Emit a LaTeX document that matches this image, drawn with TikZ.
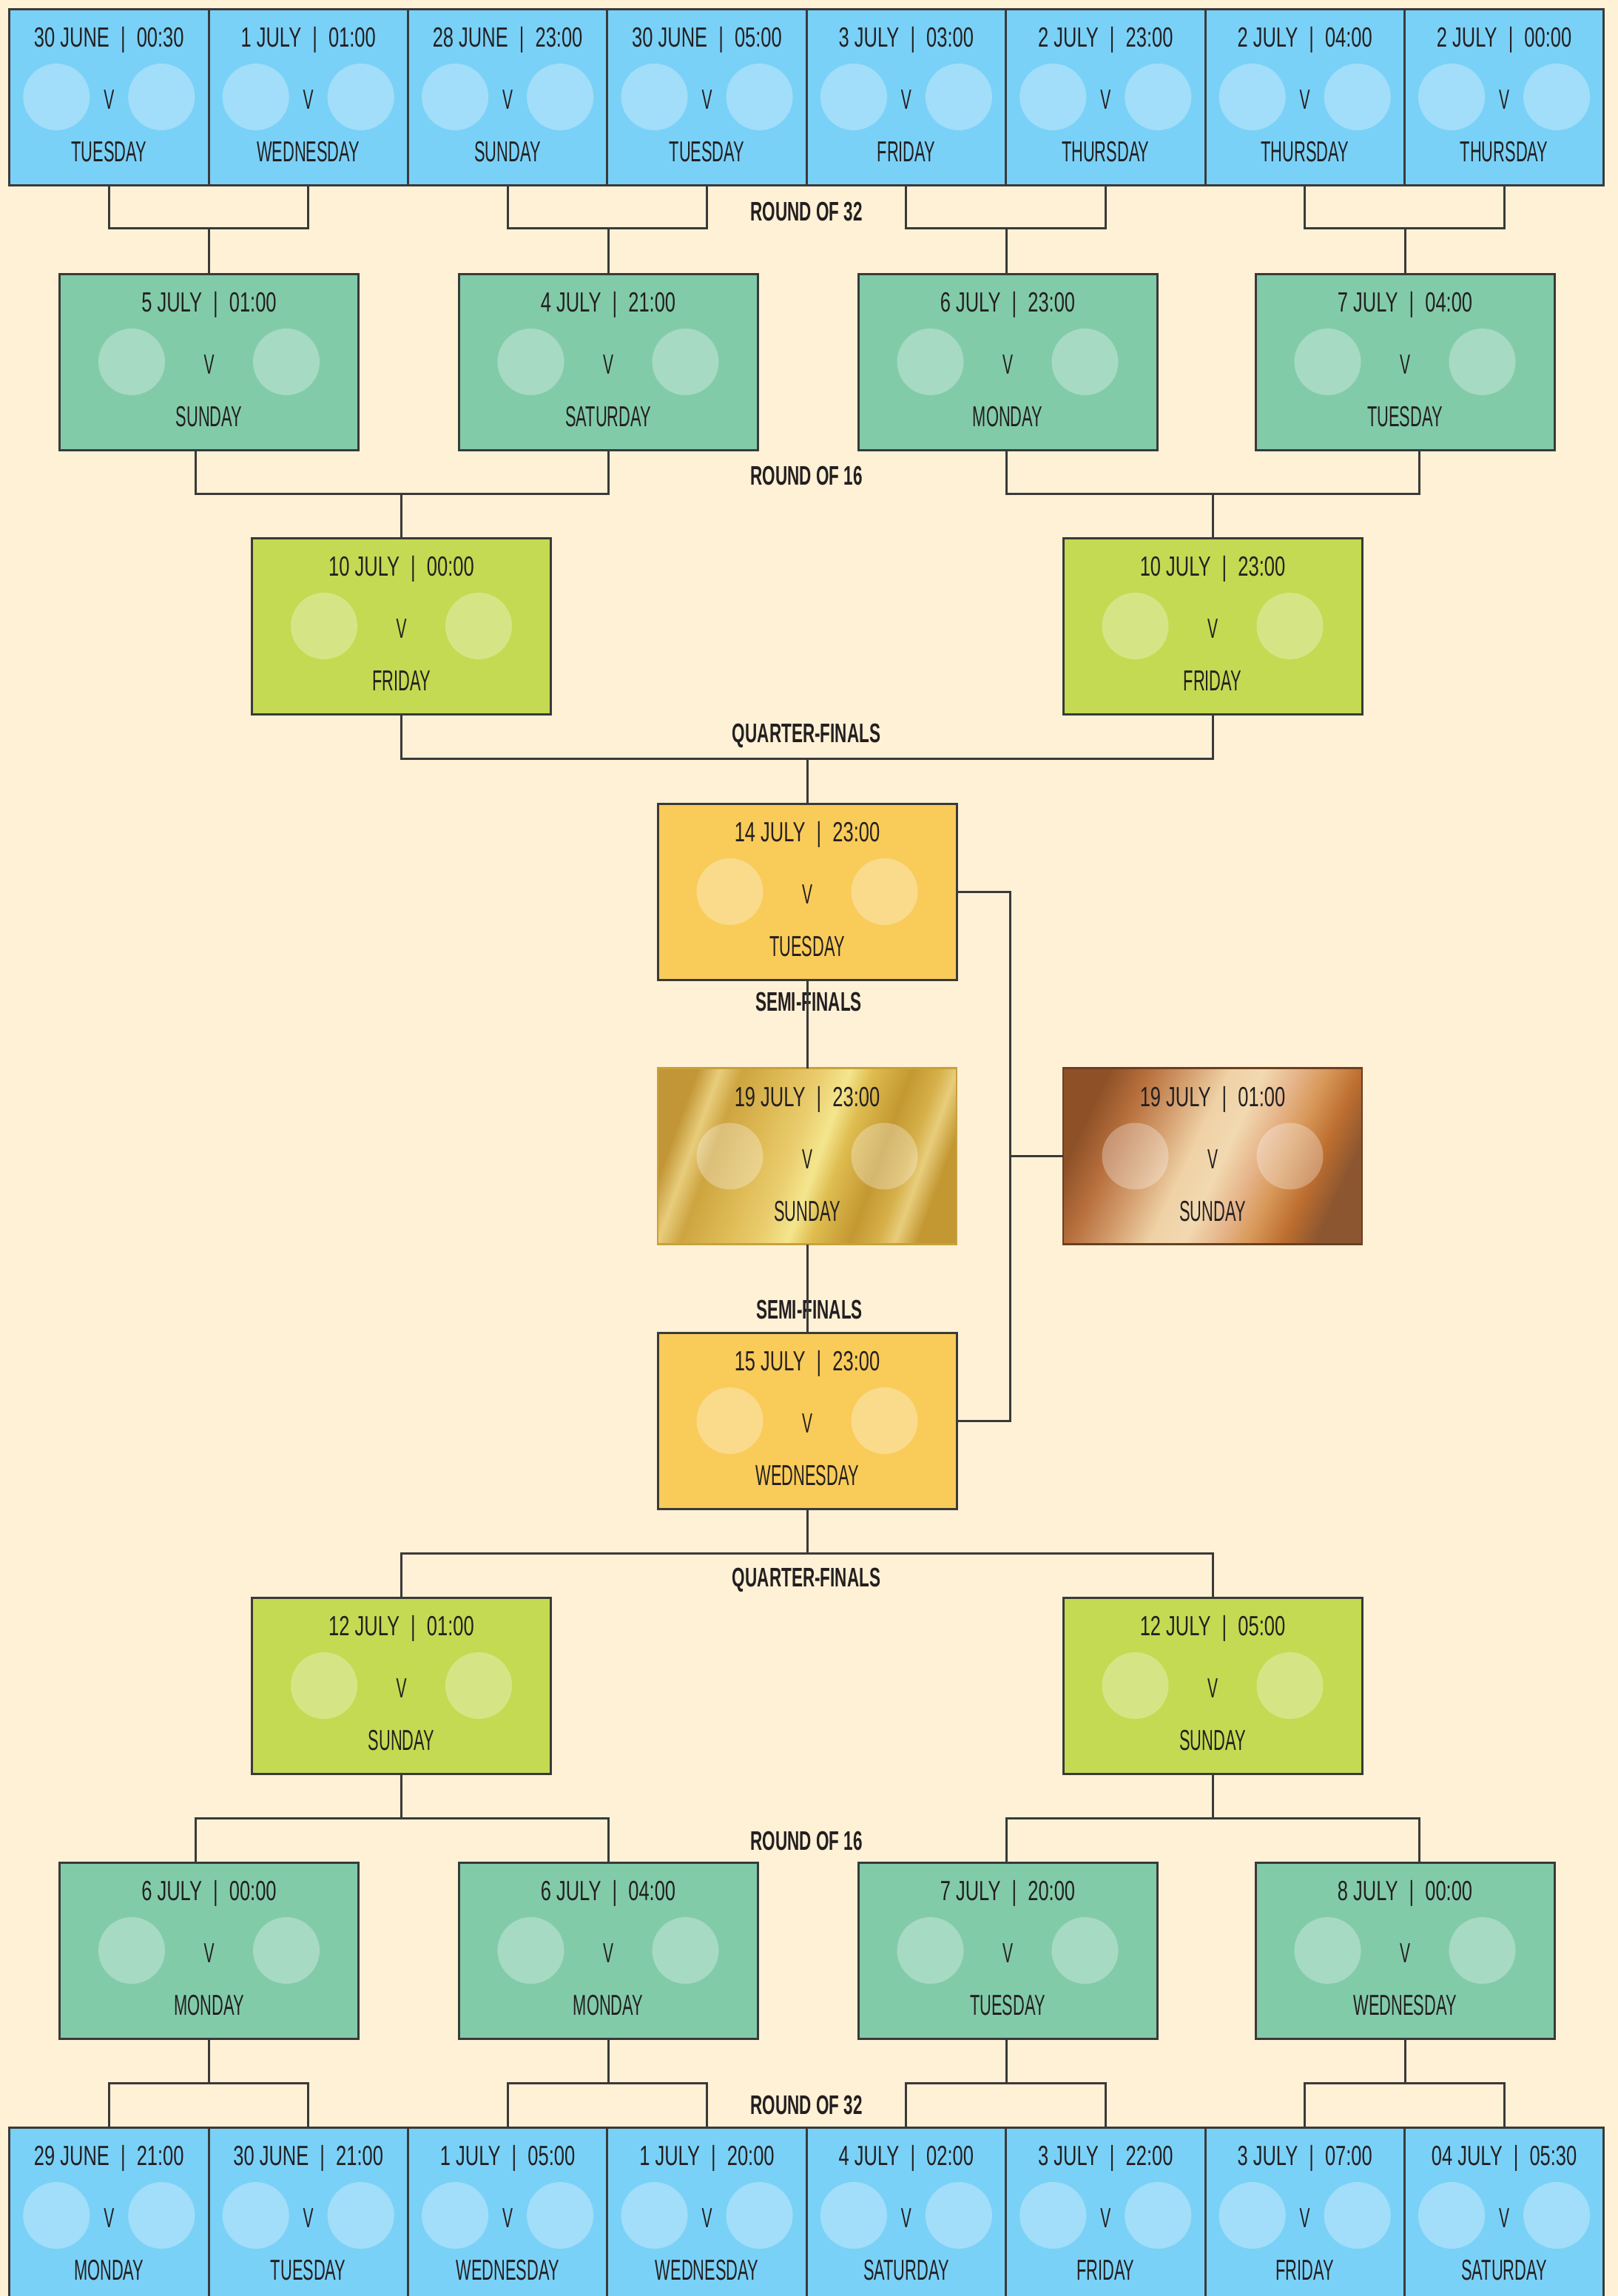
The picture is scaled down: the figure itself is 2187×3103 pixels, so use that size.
\documentclass[tikz,border=0pt]{standalone}
\usepackage{fontspec}
\newfontfamily\datef[FakeStretch=0.68]{Liberation Sans}
\newfontfamily\dayf[FakeStretch=0.56]{Liberation Sans}
\newfontfamily\labf[FakeStretch=0.62]{Liberation Sans Bold}
\definecolor{bg}{HTML}{FFF1D6}
\definecolor{lc}{HTML}{3A3A3A}
\definecolor{txt}{HTML}{231F20}
\definecolor{blueC}{HTML}{7AD1F7}
\definecolor{greenC}{HTML}{82CBA9}
\definecolor{limeC}{HTML}{C4DA52}
\definecolor{yelC}{HTML}{F9CB59}
\definecolor{goldB}{HTML}{C9A13A}
\definecolor{brzB}{HTML}{6B3F22}
\definecolor{g1}{HTML}{C29636}
\definecolor{g2}{HTML}{E8CD7C}
\definecolor{g3}{HTML}{CDA440}
\definecolor{g4}{HTML}{DDB954}
\definecolor{g5}{HTML}{EACD6E}
\definecolor{g6}{HTML}{F4E68E}
\definecolor{g7}{HTML}{DFBD50}
\definecolor{g8}{HTML}{C39832}
\definecolor{g9}{HTML}{D6B04A}
\definecolor{b1}{HTML}{8E5127}
\definecolor{b2}{HTML}{B8703E}
\definecolor{b3}{HTML}{D49E6E}
\definecolor{b4}{HTML}{EFD2A6}
\definecolor{b5}{HTML}{F2D9B0}
\definecolor{b6}{HTML}{E6B48A}
\definecolor{b7}{HTML}{D8995A}
\definecolor{b8}{HTML}{BD6E30}
\definecolor{b9}{HTML}{8C5630}
\pgfdeclarehorizontalshading{goldsh}{100bp}{color(0bp)=(g1); color(25bp)=(g1); color(29bp)=(g2); color(33bp)=(g3); color(40bp)=(g4); color(47bp)=(g5); color(52bp)=(g6); color(56bp)=(g7); color(63bp)=(g8); color(68bp)=(g9); color(71bp)=(g2); color(75bp)=(g8); color(100bp)=(g8)}
\pgfdeclarehorizontalshading{brzsh}{100bp}{color(0bp)=(b1); color(25bp)=(b1); color(32bp)=(b2); color(39bp)=(b3); color(46bp)=(b4); color(52bp)=(b5); color(58bp)=(b6); color(63bp)=(b7); color(69bp)=(b8); color(75bp)=(b9); color(100bp)=(b9)}
\begin{document}
\begin{tikzpicture}[x=1pt,y=-1pt,
  matchbox/.style={draw=lc, line width=3pt, inner sep=0pt, outer sep=0pt, minimum height=238pt},
  r32box/.style={matchbox, fill=blueC, minimum width=269.4pt},
  r16box/.style={matchbox, fill=greenC, minimum width=404pt},
  qfbox/.style={matchbox, fill=limeC, minimum width=404pt},
  sfbox/.style={matchbox, fill=yelC, minimum width=404pt},
  goldbox/.style={matchbox, draw=goldB, line width=2.5pt, minimum width=404pt, shade, shading=goldsh, shading angle=-20},
  brzbox/.style={matchbox, draw=brzB, line width=2.5pt, minimum width=404pt, shade, shading=brzsh, shading angle=-25},
  conn/.style={draw=lc, line width=3pt},
  datet/.style={inner sep=0pt, text=txt, anchor=base, font=\datef\fontsize{37.5}{40}\selectfont},
  dayt/.style={inner sep=0pt, text=txt, anchor=base, font=\dayf\fontsize{39}{42}\selectfont},
  vt/.style={inner sep=0pt, text=txt, anchor=base, font=\dayf\fontsize{37.5}{40}\selectfont},
  lab/.style={inner sep=0pt, text=txt, anchor=base, font=\labf\fontsize{36.3}{40}\selectfont},
  disc/.style={fill=white, fill opacity=0.3}
]
\newcommand\mymatch[8]{%
  \node[#2] (#1) at (#3,#4) {};
  \fill[disc] ([xshift=-#8pt]#1.center) circle[radius=45pt];
  \fill[disc] ([xshift=#8pt]#1.center) circle[radius=45pt];
  \node[datet] (#1d) at ([yshift=-51.5pt]#1.north) {#5 \hspace{8pt}| \hspace{8pt}#6};
  \node[vt] (#1v) at ([yshift=-135.5pt]#1.north) {V};
  \node[dayt] (#1w) at ([yshift=-206.5pt]#1.north) {#7};
}
\clip (0,0) rectangle (2187,3103);
\fill[bg] (0,0) rectangle (2187,3103);

% ---------- top round of 32 ----------
\mymatch{ta}{r32box}{147.3}{131}{30 JUNE}{00:30}{TUESDAY}{71}
\mymatch{tb}{r32box}{416.7}{131}{1 JULY}{01:00}{WEDNESDAY}{71}
\mymatch{tc}{r32box}{686.1}{131}{28 JUNE}{23:00}{SUNDAY}{71}
\mymatch{td}{r32box}{955.5}{131}{30 JUNE}{05:00}{TUESDAY}{71}
\mymatch{te}{r32box}{1224.9}{131}{3 JULY}{03:00}{FRIDAY}{71}
\mymatch{tf}{r32box}{1494.3}{131}{2 JULY}{23:00}{THURSDAY}{71}
\mymatch{tg}{r32box}{1763.7}{131}{2 JULY}{04:00}{THURSDAY}{71}
\mymatch{th}{r32box}{2033.1}{131}{2 JULY}{00:00}{THURSDAY}{71}

% ---------- top round of 16 ----------
\mymatch{ra}{r16box}{282.5}{489}{5 JULY}{01:00}{SUNDAY}{104.5}
\mymatch{rb}{r16box}{822}{489}{4 JULY}{21:00}{SATURDAY}{104.5}
\mymatch{rc}{r16box}{1362}{489}{6 JULY}{23:00}{MONDAY}{104.5}
\mymatch{rd}{r16box}{1899}{489}{7 JULY}{04:00}{TUESDAY}{104.5}

% ---------- top quarter-finals ----------
\mymatch{qa}{qfbox}{542.5}{846}{10 JULY}{00:00}{FRIDAY}{104.5}
\mymatch{qb}{qfbox}{1639}{846}{10 JULY}{23:00}{FRIDAY}{104.5}

% ---------- semi-finals, final, third place ----------
\mymatch{sa}{sfbox}{1091}{1205}{14 JULY}{23:00}{TUESDAY}{104.5}
\mymatch{fin}{goldbox}{1091}{1562.5}{19 JULY}{23:00}{SUNDAY}{104.5}
\mymatch{brz}{brzbox}{1639}{1562.5}{19 JULY}{01:00}{SUNDAY}{104.5}
\mymatch{sb}{sfbox}{1091}{1920}{15 JULY}{23:00}{WEDNESDAY}{104.5}

% ---------- bottom quarter-finals ----------
\mymatch{qc}{qfbox}{542.5}{2278}{12 JULY}{01:00}{SUNDAY}{104.5}
\mymatch{qd}{qfbox}{1639}{2278}{12 JULY}{05:00}{SUNDAY}{104.5}

% ---------- bottom round of 16 ----------
\mymatch{re}{r16box}{282.5}{2636}{6 JULY}{00:00}{MONDAY}{104.5}
\mymatch{rf}{r16box}{822}{2636}{6 JULY}{04:00}{MONDAY}{104.5}
\mymatch{rg}{r16box}{1362}{2636}{7 JULY}{20:00}{TUESDAY}{104.5}
\mymatch{rh}{r16box}{1899}{2636}{8 JULY}{00:00}{WEDNESDAY}{104.5}

% ---------- bottom round of 32 ----------
\mymatch{ba}{r32box}{147.3}{2994}{29 JUNE}{21:00}{MONDAY}{71}
\mymatch{bb}{r32box}{416.7}{2994}{30 JUNE}{21:00}{TUESDAY}{71}
\mymatch{bc}{r32box}{686.1}{2994}{1 JULY}{05:00}{WEDNESDAY}{71}
\mymatch{bd}{r32box}{955.5}{2994}{1 JULY}{20:00}{WEDNESDAY}{71}
\mymatch{be}{r32box}{1224.9}{2994}{4 JULY}{02:00}{SATURDAY}{71}
\mymatch{bf}{r32box}{1494.3}{2994}{3 JULY}{22:00}{FRIDAY}{71}
\mymatch{bg}{r32box}{1763.7}{2994}{3 JULY}{07:00}{FRIDAY}{71}
\mymatch{bh}{r32box}{2033.1}{2994}{04 JULY}{05:30}{SATURDAY}{71}

% ---------- round labels ----------
\node[lab] (l1) at (1090,298) {ROUND OF 32};
\node[lab] (l2) at (1090,655) {ROUND OF 16};
\node[lab] (l3) at (1090,1003) {QUARTER-FINALS};
\node[lab] (l4) at (1093,1366) {SEMI-FINALS};
\node[lab] (l5) at (1094,1782) {SEMI-FINALS};
\node[lab] (l6) at (1090,2144) {QUARTER-FINALS};
\node[lab] (l7) at (1090,2500) {ROUND OF 16};
\node[lab] (l8) at (1090,2857) {ROUND OF 32};

% ---------- connectors, top half ----------
\draw[conn] (ta.south) -- ++(0,58) -| (tb.south);
\draw[conn] (tc.south) -- ++(0,58) -| (td.south);
\draw[conn] (te.south) -- ++(0,58) -| (tf.south);
\draw[conn] (tg.south) -- ++(0,58) -| (th.south);
\draw[conn] (ra.north) -- ++(0,-62);
\draw[conn] (rb.north) -- ++(0,-62);
\draw[conn] ([xshift=-2pt]rc.north) -- ++(0,-62);
\draw[conn] (rd.north) -- ++(0,-62);

\draw[conn] ([xshift=-18.5pt]ra.south) -- ++(0,59) -| (rb.south);
\draw[conn] ([xshift=-1.5pt]rc.south) -- ++(0,59) -| ([xshift=19pt]rd.south);
\draw[conn] (qa.north) -- ++(0,-60);
\draw[conn] (qb.north) -- ++(0,-60);

\draw[conn] (qa.south) -- ++(0,60.7) -| (qb.south);
\draw[conn] (sa.north) -- ++(0,-60.3);

% ---------- connectors, centre ----------
\draw[conn] (sa.south) -- (fin.north);
\draw[conn] (fin.south) -- (sb.north);
\draw[conn] (sa.east) -- ++(72.5,0) coordinate (sj) |- (sb.east);
\draw[conn] (brz.west) -- (brz.west -| sj);

% ---------- connectors, bottom half ----------
\draw[conn] (sb.south) -- ++(0,60);
\draw[conn] (qc.north) -- ++(0,-60) -| (qd.north);
\draw[conn] (qc.south) -- ++(0,60);
\draw[conn] (qd.south) -- ++(0,60);
\draw[conn] ([xshift=-18.5pt]re.north) -- ++(0,-60) -| (rf.north);
\draw[conn] ([xshift=-1.5pt]rg.north) -- ++(0,-60) -| ([xshift=19pt]rh.north);

\draw[conn] (re.south) -- ++(0,60);
\draw[conn] (rf.south) -- ++(0,60);
\draw[conn] ([xshift=-2pt]rg.south) -- ++(0,60);
\draw[conn] (rh.south) -- ++(0,60);
\draw[conn] (ba.north) -- ++(0,-60) -| (bb.north);
\draw[conn] (bc.north) -- ++(0,-60) -| (bd.north);
\draw[conn] (be.north) -- ++(0,-60) -| (bf.north);
\draw[conn] (bg.north) -- ++(0,-60) -| (bh.north);
\end{tikzpicture}
\end{document}
